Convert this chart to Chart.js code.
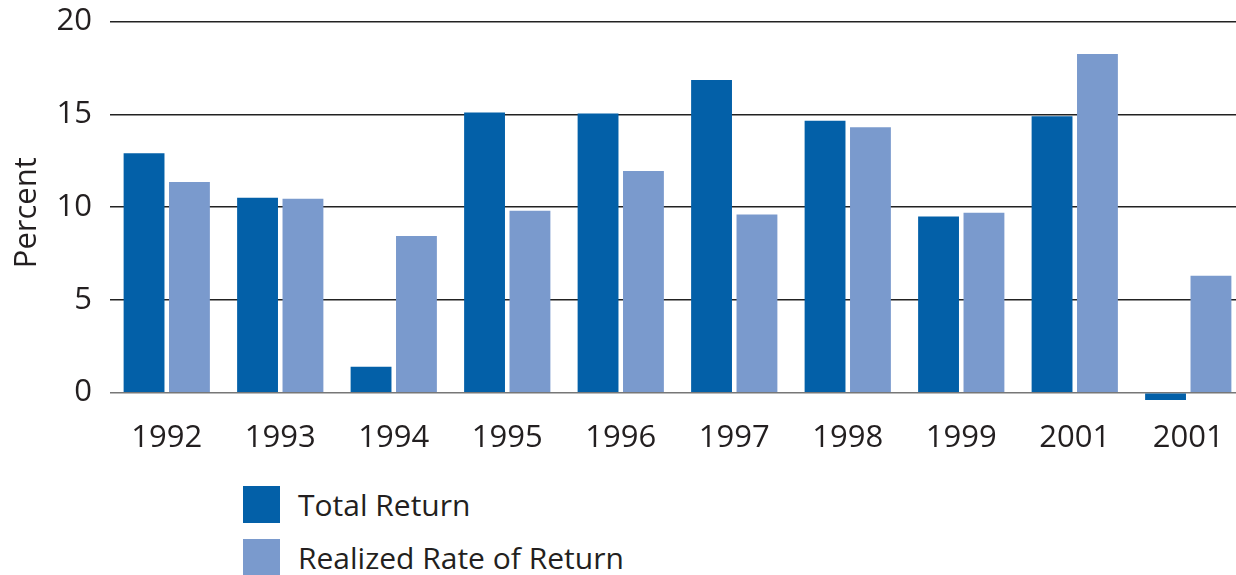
<!DOCTYPE html>
<html>
<head>
<meta charset="utf-8">
<script src="https://cdn.jsdelivr.net/npm/chart.js@4"></script>
<style>
    body { margin: 0; background: #fff; overflow: hidden; font-family: 'Open Sans', sans-serif; }
    #wrap { position: absolute; left: 0; top: -15px; width: 1245px; height: 487px; }
    #legend { position: absolute; left: 243px; top: 486px; }
    .legend-item { display: flex; align-items: center; height: 37px; margin-bottom: 16px; }
    .legend-box { width: 37px; height: 37px; margin-right: 18px; }
    .legend-label { font-size: 30px; color: #231f20; }
</style>
</head>
<body>
<div id="wrap"><canvas id="chart"></canvas></div>
<div id="legend"></div>
<script>
// Chart data
const years = ['1992', '1993', '1994', '1995', '1996', '1997', '1998', '1999', '2001', '2001'];
const totalReturn = [12.9, 10.5, 1.4, 15.1, 15.05, 16.85, 14.65, 9.5, 14.9, -0.4];
const realizedReturn = [11.35, 10.45, 8.45, 9.8, 11.95, 9.6, 14.3, 9.7, 18.25, 6.3];
const yTicks = [0, 5, 10, 15, 20];

const textColor = '#231f20';
const fontFamily = "'Open Sans', sans-serif";

const ctx = document.getElementById('chart').getContext('2d');
const chart = new Chart(ctx, {
    type: 'bar',
    data: {
        labels: years,
        datasets: [{
            label: 'Total Return',
            data: totalReturn,
            backgroundColor: '#0360a8'
        }, {
            label: 'Realized Rate of Return',
            data: realizedReturn,
            backgroundColor: '#7a9acd'
        }]
    },
    options: {
        responsive: true,
        maintainAspectRatio: false,
        animation: false,
        layout: { padding: { top: 6, bottom: 7, left: 0, right: 0 } },
        datasets: {
            bar: { categoryPercentage: 0.8, barPercentage: 0.9 }
        },
        plugins: {
            legend: { display: false },
            tooltip: { enabled: false }
        },
        scales: {
            x: {
                grid: { display: false },
                border: { display: false },
                ticks: {
                    color: textColor,
                    padding: 8,
                    font: { family: fontFamily, size: 31 }
                }
            },
            y: {
                min: -0.6,
                max: 20,
                afterBuildTicks: function(scale) {
                    scale.ticks = yTicks.map(v => ({ value: v }));
                },
                afterFit: function(scale) {
                    scale.width = 110;
                },
                grid: {
                    drawTicks: false,
                    lineWidth: 1.5,
                    color: function(c) {
                        return c.tick && c.tick.value === 0 ? '#777' : '#222';
                    }
                },
                border: { display: false },
                ticks: {
                    color: textColor,
                    padding: 18,
                    font: { family: fontFamily, size: 31 }
                },
                title: {
                    display: true,
                    text: 'Percent',
                    color: textColor,
                    padding: { top: 9, bottom: 0 },
                    font: { family: fontFamily, size: 31 }
                }
            }
        }
    }
});

// Build legend from the datasets
document.getElementById('legend').innerHTML = chart.data.datasets.map(ds => `
    <div class="legend-item">
        <div class="legend-box" style="background: ${ds.backgroundColor};"></div>
        <div class="legend-label">${ds.label}</div>
    </div>
`).join('');
</script>
</body>
</html>
